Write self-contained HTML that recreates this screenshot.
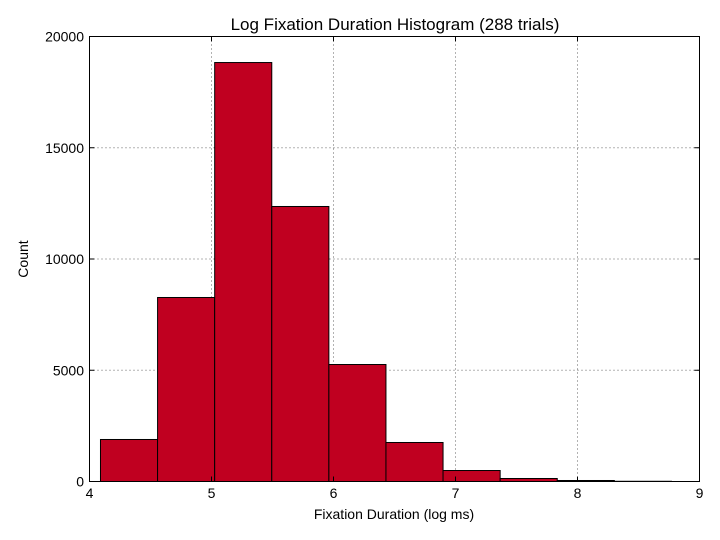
<!DOCTYPE html>
<html><head><meta charset="utf-8"><style>
body{margin:0;background:#fff;}
svg{display:block;font-family:"Liberation Sans",sans-serif;}
</style></head><body>
<svg id="chart" width="720" height="540">
<rect x="0" y="0" width="720" height="540" fill="#fff"/>
<g id="grid"></g>
<g id="bars"></g>
<rect x="89.5" y="36.5" width="610" height="445" fill="none" stroke="#000"/>
<g id="ticks"></g>
<text x="395" y="30" text-anchor="middle" font-size="17">Log Fixation Duration Histogram (288 trials)</text>
<text x="394" y="519" text-anchor="middle" font-size="14">Fixation Duration (log ms)</text>
<text x="28" y="259" text-anchor="middle" font-size="14" transform="rotate(-90 28 259)">Count</text>
</svg>
<script>
const binStart = 4.09;
const binWidth = 0.468;
const counts = [1888, 8270, 18830, 12360, 5258, 1753, 494, 135, 45, 10];
const xTicks = [4, 5, 6, 7, 8, 9];
const yTicks = [0, 5000, 10000, 15000, 20000];
const X0=89.5, X1=699.5, Y0=481.5, Y1=36.5;
const sx = v => X0 + (v-4)/(9-4)*(X1-X0);
const sy = v => Y0 - v/20000*(Y0-Y1);
const NS="http://www.w3.org/2000/svg";
function mk(tag, attrs, parent){const e=document.createElementNS(NS,tag);for(const k in attrs)e.setAttribute(k,attrs[k]);parent.appendChild(e);return e;}
const grid=document.getElementById('grid'), bars=document.getElementById('bars'), ticks=document.getElementById('ticks');
xTicks.forEach(t=>{
  const x=sx(t);
  if(t>4&&t<9){const l=mk('line',{x1:x,x2:x,y1:Y1,y2:Y0,stroke:'#666','stroke-dasharray':'1,3'},grid);
  
  }
  const a=mk('line',{x1:x,x2:x,y1:Y0,y2:Y0-5,stroke:'#000'},ticks);
  
  
  const b=mk('line',{x1:x,x2:x,y1:Y1,y2:Y1+5,stroke:'#000'},ticks);
  
  
  const tx=mk('text',{x:x,y:498,'text-anchor':'middle','font-size':14},ticks);
  tx.textContent=t;
  
  
});
yTicks.forEach(t=>{
  const y=sy(t);
  if(t>0&&t<20000){const l=mk('line',{x1:X0,x2:X1,y1:y,y2:y,stroke:'#666','stroke-dasharray':'1,3'},grid);
  
  }
  const a=mk('line',{x1:X0,x2:X0+5,y1:y,y2:y,stroke:'#000'},ticks);
  
  
  const b=mk('line',{x1:X1,x2:X1-5,y1:y,y2:y,stroke:'#000'},ticks);
  
  
  const tx=mk('text',{x:84,y:y+5,'text-anchor':'end','font-size':14},ticks);
  tx.textContent=t;
  
  
});
counts.forEach((c,i)=>{
  const xa=sx(binStart+i*binWidth), xb=sx(binStart+(i+1)*binWidth);
  const r=mk('rect',{x:xa,y:sy(c),width:xb-xa,height:Y0-sy(c),fill:'#c00020',stroke:'#000','stroke-width':1},bars);
  
  
});
</script>
</body></html>
